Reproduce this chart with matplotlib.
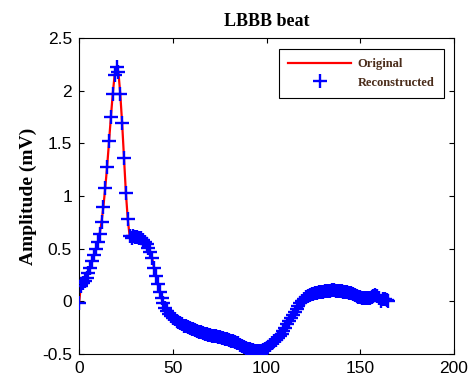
# -*- coding: utf-8 -*-
# LBBB beat: original vs reconstructed

import numpy as np
import matplotlib
matplotlib.use("Agg")
import matplotlib.pyplot as plt

# sample index and amplitude (mV)
sample = np.arange(166)
original = [
    -0.02, 0.15, 0.17, 0.19, 0.22, 0.27, 0.32, 0.38, 0.44, 0.50,
    0.56, 0.64, 0.75, 0.90, 1.08, 1.28, 1.52, 1.75, 1.97, 2.15,
    2.22, 2.18, 1.97, 1.69, 1.36, 1.03, 0.78, 0.62, 0.60, 0.62,
    0.61, 0.61, 0.60, 0.60, 0.58, 0.56, 0.54, 0.51, 0.47, 0.41,
    0.32, 0.24, 0.16, 0.09, 0.03, -0.02, -0.06, -0.09, -0.12, -0.14,
    -0.16, -0.17, -0.19, -0.20, -0.21, -0.22, -0.23, -0.23, -0.24, -0.25,
    -0.26, -0.26, -0.27, -0.28, -0.29, -0.29, -0.30, -0.31, -0.31, -0.32,
    -0.32, -0.33, -0.33, -0.33, -0.34, -0.34, -0.35, -0.35, -0.36, -0.36,
    -0.37, -0.38, -0.38, -0.39, -0.40, -0.40, -0.41, -0.42, -0.43, -0.44,
    -0.45, -0.45, -0.46, -0.46, -0.47, -0.47, -0.47, -0.47, -0.46, -0.45,
    -0.44, -0.43, -0.41, -0.40, -0.38, -0.37, -0.35, -0.33, -0.31, -0.28,
    -0.25, -0.22, -0.19, -0.16, -0.13, -0.10, -0.07, -0.04, -0.02, 0.00,
    0.02, 0.04, 0.05, 0.06, 0.07, 0.07, 0.08, 0.08, 0.09, 0.09,
    0.09, 0.10, 0.10, 0.10, 0.10, 0.11, 0.11, 0.10, 0.10, 0.10,
    0.10, 0.09, 0.09, 0.09, 0.08, 0.08, 0.07, 0.06, 0.05, 0.04,
    0.04, 0.03, 0.03, 0.03, 0.03, 0.03, 0.04, 0.05, 0.06, 0.05,
    0.03, 0.00, 0.02, 0.02, 0.01, 0.00,
]
reconstructed = list(original)

xticks = [0, 50, 100, 150, 200]
yticks = [-0.5, 0, 0.5, 1, 1.5, 2, 2.5]
yticklabels = ['-0.5', '0', '0.5', '1', '1.5', '2', '2.5']

fig = plt.figure(figsize=(4.74, 3.87), dpi=100)
ax = fig.add_axes([0.1667, 0.0853, 0.7911, 0.8165])

ax.plot(sample, original, color='red', lw=1.6, label='Original', zorder=2)
ax.plot(sample, reconstructed, ls='none', marker='+', color='blue',
        ms=10, mew=1.7, label='Reconstructed', zorder=3)

ax.set_xlim(0, 200)
ax.set_ylim(-0.5, 2.5)
ax.set_xticks(xticks)
ax.set_yticks(yticks)
ax.set_yticklabels(yticklabels)
ax.tick_params(direction='in', top=True, right=True, length=3.5, width=0.8,
               labelsize=12.5, pad=5)
for lab in ax.get_xticklabels() + ax.get_yticklabels():
    lab.set_fontfamily('Liberation Sans')
for sp in ax.spines.values():
    sp.set_linewidth(0.8)

ax.set_title('LBBB beat', fontfamily='Liberation Serif', fontweight='bold',
             fontsize=13, pad=9)
ax.set_ylabel('Amplitude (mV)', fontfamily='Liberation Serif',
              fontweight='bold', fontsize=14, labelpad=4)

leg = ax.legend(loc='upper right', bbox_to_anchor=(0.973, 0.965),
                borderaxespad=0, fancybox=False, framealpha=1,
                edgecolor='black', handlelength=5.0, handletextpad=0.55,
                borderpad=0.75, labelspacing=0.5,
                prop={'family': 'Liberation Serif', 'weight': 'bold', 'size': 9})
leg.get_frame().set_linewidth(0.8)
for t in leg.get_texts():
    t.set_color('#4a2c1a')

fig.savefig('out.png', dpi=100)
